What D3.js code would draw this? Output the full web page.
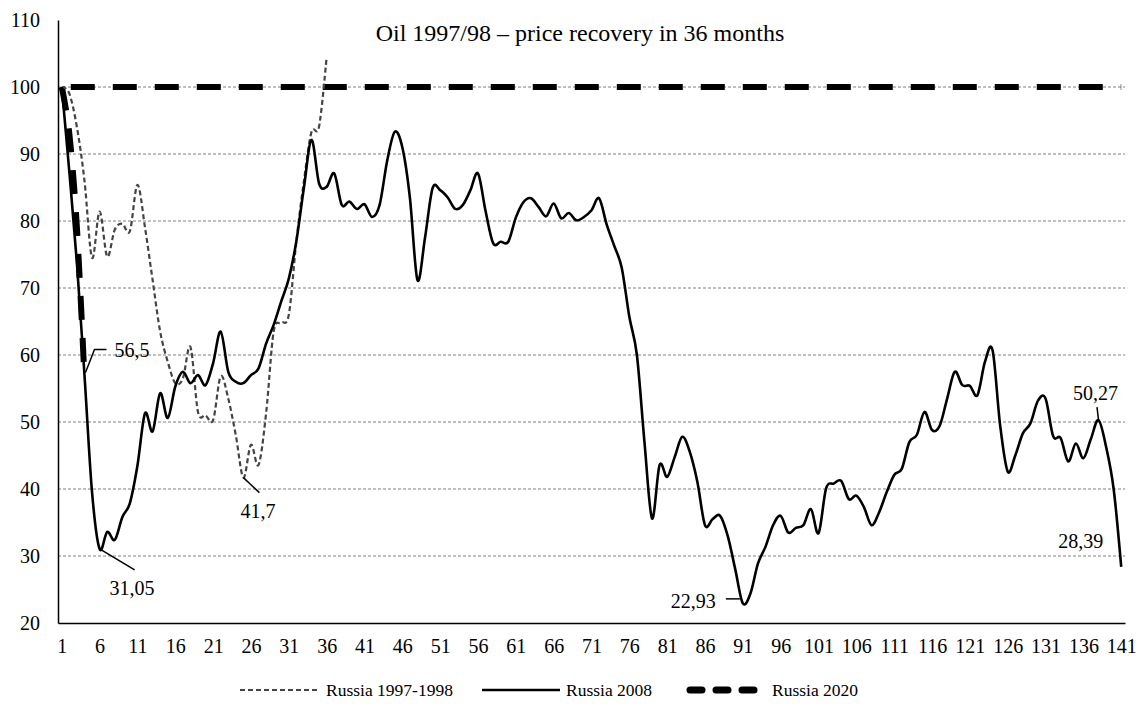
<!DOCTYPE html>
<html>
<head>
<meta charset="utf-8">
<script src="https://cdn.jsdelivr.net/npm/d3@7"></script>
<style>
  body { margin: 0; background: #fff; }
  svg { display: block; font-family: 'Liberation Serif', 'Times New Roman', serif; }
</style>
</head>
<body>
<svg id="chart" width="1144" height="704"></svg>
<script>
// months since start of crisis
const months = d3.range(1, 142)

// Russia 1997-1998 (gray dashed)
const russia1997 = [100, 99, 94, 86, 74.5, 81.4, 74.7, 78.7, 79.6, 78.5,
  85.4, 79, 71.2, 63.5, 59, 55.8, 56.5, 61.2, 51.5, 51,
  50.3, 56.8, 53.5, 48, 41.7, 46.6, 43.6, 51.3, 63.5, 64.8,
  66, 77, 86, 93.3, 94.1, 104.5]

// Russia 2008 (solid)
const russia2008 = [100, 87.3, 73.7, 57, 39.5, 31.05, 33.6, 32.4, 35.8, 37.9,
  43.5, 51.3, 48.6, 54.3, 50.6, 55.3, 57.5, 55.8, 57, 55.5,
  58.8, 63.5, 57.5, 56, 55.8, 57, 58, 61.7, 64.5, 68,
  71.4, 77, 85, 92.1, 85.6, 85.1, 87.1, 82.4, 82.9, 81.8,
  82.5, 80.6, 82.4, 89, 93.3, 91, 83.5, 71.2, 77.5, 84.9,
  84.6, 83.5, 81.8, 82.4, 84.6, 87.1, 81.5, 76.7, 76.9, 76.9,
  80.5, 82.8, 83.4, 82.1, 80.7, 82.6, 80.4, 81.2, 80.1, 80.6,
  81.6, 83.4, 79.5, 76.3, 73, 65.7, 60, 47, 35.6, 43.6,
  41.8, 44.8, 47.8, 45.5, 41, 34.6, 35.5, 36, 33, 28,
  22.93, 24.4, 28.9, 31.4, 34.6, 36, 33.5, 34.2, 34.6, 37,
  33.4, 40.1, 40.8, 41.2, 38.5, 39, 37.3, 34.6, 36.5, 39.5,
  42.1, 43, 47, 48.1, 51.5, 48.8, 49.4, 53.5, 57.5, 55.5,
  55.4, 54, 59, 60.7, 49.5, 42.6, 45, 48.3, 49.8, 53.2,
  53.5, 47.9, 47.6, 44.1, 46.8, 44.6, 47.5, 50.27, 46.3, 40,
  28.39]

// Russia 2020 (thick dashed)
const russia2020 = [100, 93, 79, 56.5]

// level of the pre-crisis price
const preCrisisLevel = 100

const yTicks = [20, 30, 40, 50, 60, 70, 80, 90, 100, 110]
const gridValues = [30, 40, 50, 60, 70, 80, 90, 100]
const xTickLabels = months.filter((m) => (m - 1) % 5 === 0)

const titleText = 'Oil 1997/98 \u2013 price recovery in 36 months'
const legendNames = ['Russia 1997-1998', 'Russia 2008', 'Russia 2020']

// point labels: series, month, text
const callouts = [
  { series: russia2020, month: 4, text: '56,5' },
  { series: russia2008, month: 6, text: '31,05' },
  { series: russia1997, month: 25, text: '41,7' },
  { series: russia2008, month: 91, text: '22,93' },
  { series: russia2008, month: 138, text: '50,27' },
  { series: russia2008, month: 141, text: '28,39' }
]

const svg = d3.select('#chart')
const plot = { left: 58, right: 1125, top: 20, bottom: 623 }

const x = d3.scalePoint().domain(months).range([plot.left, plot.right]).padding(0.5)
const y = d3.scaleLinear().domain([20, 110]).range([plot.bottom, plot.top])

// gridlines
svg.append('g')
  .selectAll('line')
  .data(gridValues)
  .enter()
  .append('line')
  .attr('x1', plot.left)
  .attr('x2', plot.right)
  .attr('y1', (d) => y(d))
  .attr('y2', (d) => y(d))
  .attr('stroke', '#808080')
  .attr('stroke-width', 1)
  .attr('stroke-dasharray', '3,2')

// y axis
const yAxis = svg.append('g')
  .attr('transform', `translate(${plot.left},0)`)
  .call(d3.axisLeft(y).tickValues(yTicks).tickSize(0).tickPadding(18))
yAxis.select('.domain').attr('stroke', '#000').attr('stroke-width', 1.5)
yAxis.selectAll('text')
  .attr('font-family', 'Liberation Serif')
  .attr('font-size', '20px')
  .attr('fill', '#000')

// x axis
const xAxis = svg.append('g')
  .attr('transform', `translate(0,${plot.bottom})`)
  .call(d3.axisBottom(x).tickValues(xTickLabels).tickSize(0).tickPadding(16))
xAxis.select('.domain').attr('stroke', '#000').attr('stroke-width', 1.5)
xAxis.selectAll('text')
  .attr('font-family', 'Liberation Serif')
  .attr('font-size', '20px')
  .attr('fill', '#000')

const line = d3.line()
  .x((d, i) => x(months[i]))
  .y((d) => y(d))
  .curve(d3.curveCardinal.tension(0))

// 2020 drop and pre-crisis level
svg.append('path')
  .datum(russia2020)
  .attr('d', line)
  .attr('fill', 'none')
  .attr('stroke', '#000')
  .attr('stroke-width', 6)
  .attr('stroke-dasharray', '24,18')

svg.append('line')
  .attr('x1', x(months[0]))
  .attr('x2', x(months[months.length - 1]))
  .attr('y1', y(preCrisisLevel))
  .attr('y2', y(preCrisisLevel))
  .attr('stroke', '#000')
  .attr('stroke-width', 6)
  .attr('stroke-dasharray', '24,18')
  .attr('stroke-dashoffset', -9)

// 1997-1998
svg.append('path')
  .datum(russia1997)
  .attr('d', line)
  .attr('fill', 'none')
  .attr('stroke', '#444')
  .attr('stroke-width', 2.2)
  .attr('stroke-dasharray', '5,3')

// 2008
svg.append('path')
  .datum(russia2008)
  .attr('d', line)
  .attr('fill', 'none')
  .attr('stroke', '#000')
  .attr('stroke-width', 2.6)
  .attr('stroke-linejoin', 'round')

// title
svg.append('text')
  .attr('x', 580)
  .attr('y', 41)
  .attr('text-anchor', 'middle')
  .attr('font-size', '24px')
  .text(titleText)

// callouts with leader lines
const calloutStyle = [
  { dx: 30, dy: -21, anchor: 'start', leader: [[1, -6], [10, -29], [22, -29]] },
  { dx: 10, dy: 46, anchor: 'start', leader: [[0, 0], [35, 21]] },
  { dx: -3, dy: 40, anchor: 'start', leader: [[0, 0], [16, 15]] },
  { dx: -27, dy: 5, anchor: 'end', leader: [[-17, -4.5], [-3, -4.5]] },
  { dx: -3, dy: -20, anchor: 'middle', leader: [[-1.5, -13], [0, 0]] },
  { dx: -18, dy: -19, anchor: 'end', leader: null }
]

callouts.forEach((c, i) => {
  const px = x(c.month)
  const py = y(c.series[c.month - 1])
  const s = calloutStyle[i]
  if (s.leader) {
    svg.append('path')
      .attr('d', d3.line()(s.leader.map((p) => [px + p[0], py + p[1]])))
      .attr('fill', 'none')
      .attr('stroke', '#000')
      .attr('stroke-width', 1.5)
  }
  svg.append('text')
    .attr('x', px + s.dx)
    .attr('y', py + s.dy)
    .attr('text-anchor', s.anchor)
    .attr('font-size', '20px')
    .text(c.text)
})

// legend
const legendItems = [
  { x1: 240, x2: 320, tx: 326, stroke: '#444', width: 2.2, dash: '5,3', cap: 'butt' },
  { x1: 482, x2: 560, tx: 566, stroke: '#000', width: 2.6, dash: null, cap: 'butt' },
  { x1: 690, x2: 763, tx: 772, stroke: '#000', width: 7, dash: '12,14', cap: 'round' }
]
const legend = svg.append('g').attr('transform', 'translate(0,690)')
legendItems.forEach((d, i) => {
  legend.append('line')
    .attr('x1', d.x1)
    .attr('x2', d.x2)
    .attr('stroke', d.stroke)
    .attr('stroke-width', d.width)
    .attr('stroke-dasharray', d.dash)
    .attr('stroke-linecap', d.cap)
  legend.append('text')
    .attr('x', d.tx)
    .attr('y', 6)
    .attr('font-size', '17.5px')
    .text(legendNames[i])
})
</script>
</body>
</html>
